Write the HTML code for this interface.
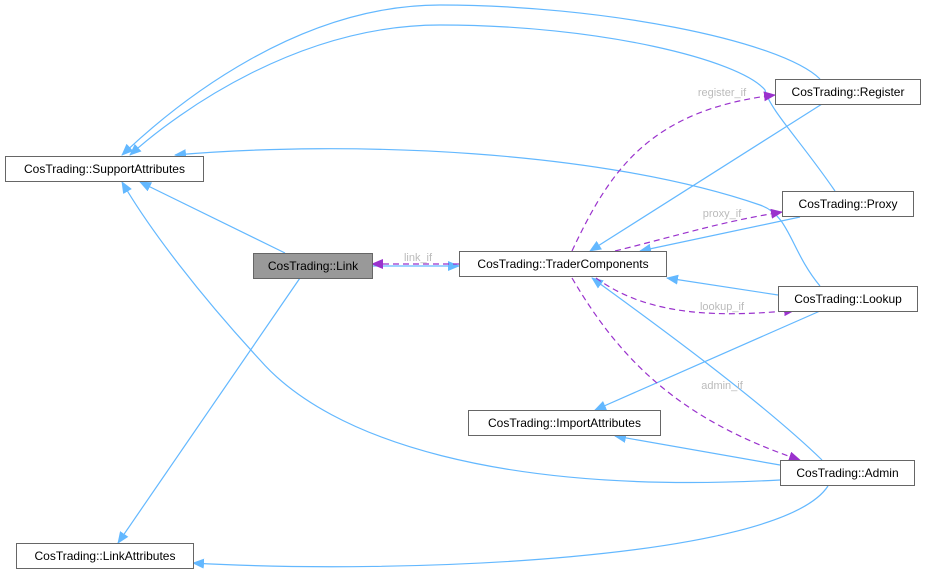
<!DOCTYPE html>
<html><head><meta charset="utf-8"><style>
body{margin:0;background:#fff;width:925px;height:575px;overflow:hidden}
svg{display:block}
text{font-family:"Liberation Sans",sans-serif}
</style></head><body>
<svg width="925" height="575" viewBox="0 0 925 575" xmlns="http://www.w3.org/2000/svg">
<defs>
<marker id="b" markerWidth="12" markerHeight="10" refX="11" refY="5" orient="auto" markerUnits="userSpaceOnUse"><path d="M0,0 L12,5 L0,10 z" fill="#63b8ff"/></marker>
<marker id="p" markerWidth="12" markerHeight="10" refX="11" refY="5" orient="auto" markerUnits="userSpaceOnUse"><path d="M0,0 L12,5 L0,10 z" fill="#9a32cd"/></marker>
</defs>
<g fill="none" stroke="#63b8ff" stroke-width="1.2" marker-end="url(#b)">
<path d="M820,79 C780,40 600,5 440,5 C300,5 180,100 122,155"/>
<path d="M835,191 C800,140 770,110 765,90 C740,60 600,25 440,25 C300,25 180,110 130,155"/>
<path d="M820,286 C790,250 790,215 760,205 C600,150 350,140 175,155"/>
<path d="M285,253 L140,182"/>
<path d="M780,480 C500,495 330,440 260,360 C200,295 150,230 122,182"/>
<path d="M300,278 L118,543"/>
<path d="M828,486 C780,560 400,575 193,563"/>
<path d="M372,266 L459,266"/>
<path d="M822,104 L590,251"/>
<path d="M800,217 L640,251"/>
<path d="M778,295 L667,278"/>
<path d="M822,460 C760,400 650,320 592,278"/>
<path d="M820,311 L595,410"/>
<path d="M780,465 L615,436"/>
</g>
<g fill="none" stroke="#9a32cd" stroke-width="1.2" stroke-dasharray="6,4" marker-end="url(#p)">
<path d="M459,264 L372,264"/>
<path d="M572,251 C610,170 650,110 775,95"/>
<path d="M615,251 C680,235 720,222 782,212"/>
<path d="M596,278 C640,310 700,320 795,310"/>
<path d="M572,278 C620,360 680,420 800,460"/>
</g>
<g font-size="11" fill="#bbb" text-anchor="middle">
<text x="418" y="261">link_if</text>
<text x="722" y="96">register_if</text>
<text x="722" y="217">proxy_if</text>
<text x="722" y="310">lookup_if</text>
<text x="722" y="389">admin_if</text>
</g>
<g stroke="#666" stroke-width="1" fill="#fff">
<rect x="5.5" y="156.5" width="198" height="25"/>
<rect x="253.5" y="253.5" width="119" height="25" fill="#999"/>
<rect x="459.5" y="251.5" width="207" height="25"/>
<rect x="775.5" y="79.5" width="145" height="25"/>
<rect x="782.5" y="191.5" width="131" height="25"/>
<rect x="778.5" y="286.5" width="139" height="25"/>
<rect x="468.5" y="410.5" width="192" height="25"/>
<rect x="780.5" y="460.5" width="134" height="25"/>
<rect x="16.5" y="543.5" width="177" height="25"/>
</g>
<g font-size="12" fill="#000" text-anchor="middle">
<text x="104.5" y="173">CosTrading::SupportAttributes</text>
<text x="313" y="270">CosTrading::Link</text>
<text x="563" y="268">CosTrading::TraderComponents</text>
<text x="848" y="96">CosTrading::Register</text>
<text x="848" y="208">CosTrading::Proxy</text>
<text x="848" y="303">CosTrading::Lookup</text>
<text x="564.5" y="427">CosTrading::ImportAttributes</text>
<text x="847.5" y="477">CosTrading::Admin</text>
<text x="105" y="560">CosTrading::LinkAttributes</text>
</g>
</svg>
</body></html>
